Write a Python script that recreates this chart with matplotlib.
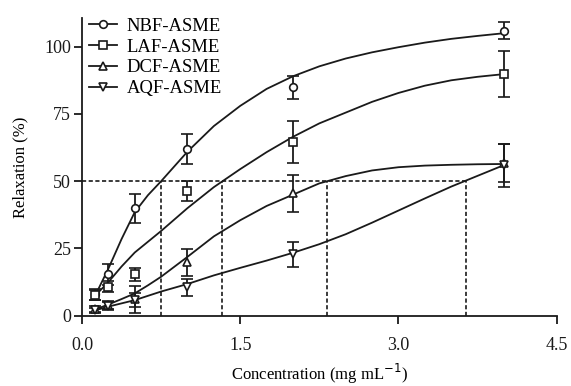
import matplotlib
matplotlib.use("Agg")
import matplotlib.pyplot as plt

plt.rcParams['font.family'] = ['Liberation Serif', 'DejaVu Serif']

# measured points (concentration, mg/mL)
conc = [0.125, 0.25, 0.5, 1.0, 2.0, 4.0]

nbf = [8.0, 15.4, 39.9, 62.0, 84.9, 106.0]
nbf_err = [2.0, 4.0, 5.3, 5.6, 4.3, 3.3]
laf = [7.7, 10.8, 15.4, 46.5, 64.7, 89.8]
laf_err = [2.0, 2.0, 2.5, 3.7, 7.8, 8.5]
dcf = [2.5, 4.0, 6.2, 19.8, 45.5, 56.8]
dcf_err = [1.0, 1.5, 5.0, 5.0, 6.8, 7.0]
aqf = [2.0, 3.5, 5.8, 10.5, 22.8, 56.0]
aqf_err = [1.0, 1.5, 2.5, 3.0, 4.5, 8.0]

# fitted curves
fit_x = [0.125, 0.25, 0.375, 0.5, 0.625, 0.75, 1.0, 1.25, 1.5, 1.75, 2.0,
         2.25, 2.5, 2.75, 3.0, 3.25, 3.5, 3.75, 4.0]
nbf_fit = [7.5, 17.5, 28.5, 38.5, 44.8, 50.0, 61.0, 70.5, 78.0, 84.3, 89.0,
           92.7, 95.6, 97.9, 99.8, 101.5, 102.9, 104.0, 105.0]
laf_fit = [7.5, 12.5, 18.3, 23.5, 27.5, 31.5, 40.0, 47.8, 54.5, 60.8, 66.5,
           71.5, 75.5, 79.5, 82.8, 85.5, 87.5, 88.8, 89.8]
dcf_fit = [2.3, 4.2, 6.2, 8.3, 11.3, 14.5, 21.9, 29.5, 35.5, 40.8, 45.0,
           49.2, 51.9, 54.0, 55.2, 55.8, 56.1, 56.3, 56.4]
aqf_fit = [2.0, 3.4, 4.6, 5.8, 7.4, 9.0, 11.8, 15.0, 17.8, 20.5, 23.4,
           26.6, 30.3, 34.6, 39.1, 43.6, 48.0, 52.0, 56.0]

# half-maximal concentrations marked with dashed lines
ec50 = [0.75, 1.33, 2.32, 3.64]

series = [
    ("NBF-ASME", nbf, nbf_err, nbf_fit, "o"),
    ("LAF-ASME", laf, laf_err, laf_fit, "s"),
    ("DCF-ASME", dcf, dcf_err, dcf_fit, "^"),
    ("AQF-ASME", aqf, aqf_err, aqf_fit, "v"),
]

ink = "#1a1a1a"
fig = plt.figure(figsize=(5.71, 3.86), dpi=100)
ax = fig.add_axes([0.1436, 0.182, 0.8314, 0.771])

for name, y, err, fit, mk in series:
    ax.plot(fit_x, fit, color=ink, lw=1.3, zorder=2)
    ax.errorbar(conc, y, yerr=err, fmt=mk, color=ink, mfc="white", mec=ink,
                ms=5.5, mew=1.2, elinewidth=1.3, capsize=4.5, capthick=1.3,
                zorder=3)
    # legend proxy
    ax.plot([], [], color=ink, lw=1.3, marker=mk, mfc="white", mec=ink,
            ms=5.5, mew=1.2, label=name)

ax.plot([0, max(ec50)], [50, 50], color=ink, lw=1.2, ls=(0, (2.5, 1.5)), zorder=1)
for e in ec50:
    ax.plot([e, e], [0, 50], color=ink, lw=1.2, ls=(0, (2.5, 1.5)), zorder=1)

ax.set_xlim(0, 4.5)
ax.set_ylim(0, 110.6)
ax.set_xticks([0.0, 1.5, 3.0, 4.5])
ax.set_xticklabels(["0.0", "1.5", "3.0", "4.5"])
ax.set_yticks([0, 25, 50, 75, 100])
ax.spines["top"].set_visible(False)
ax.spines["right"].set_visible(False)
for s in ("left", "bottom"):
    ax.spines[s].set_linewidth(1.3)
    ax.spines[s].set_color(ink)
ax.tick_params(direction="out", length=6, width=1.3, colors=ink, labelsize=13)
ax.tick_params(axis="x", pad=9)
ax.tick_params(axis="y", pad=2)

ax.set_xlabel("Concentration (mg mL$^{-1}$)", fontsize=12, labelpad=6)
ax.set_ylabel("Relaxation (%)", fontsize=12, labelpad=11)

# only the proxies go in the legend
handles, labels = ax.get_legend_handles_labels()
ax.legend(handles, labels, loc="upper left", bbox_to_anchor=(-0.012, 1.045), frameon=False,
          fontsize=13.4, handlelength=1.5, handletextpad=0.5, labelspacing=0.2,
          borderaxespad=0.3)

plt.savefig("out.png", dpi=100)
print("Graph saved to out.png")
